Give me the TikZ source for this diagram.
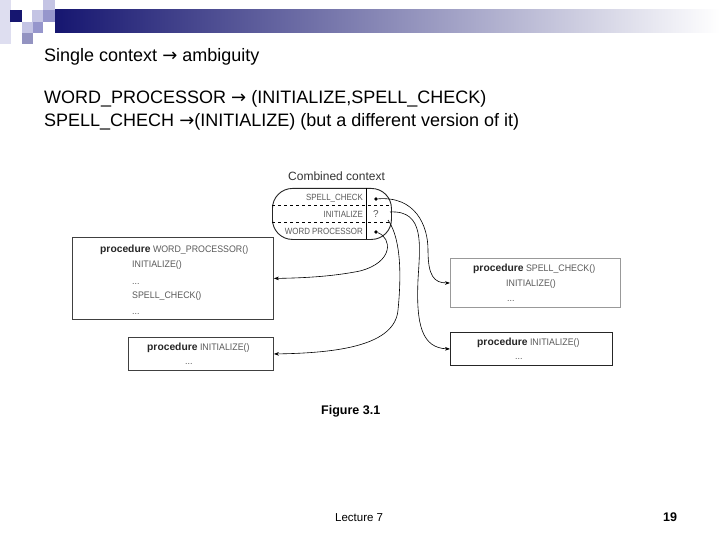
\documentclass[tikz,border=0pt]{standalone}
\usepackage{fontspec}
\setmainfont{Liberation Sans}
\newfontfamily\codefont[FakeStretch=0.88]{Liberation Sans}
\newfontfamily\boxfont[FakeStretch=0.93]{Liberation Sans}
\newfontfamily\arrowfont{DejaVu Sans}
\usetikzlibrary{arrows.meta}
\definecolor{navy}{RGB}{22,22,112}
\definecolor{barmid}{RGB}{150,150,182}
\definecolor{lavA}{RGB}{222,222,240}
\definecolor{lavB}{RGB}{196,196,228}
\definecolor{lavC}{RGB}{150,150,204}
\definecolor{codegray}{RGB}{90,90,90}
\begin{document}
\begin{tikzpicture}[x=1pt,y=-1pt,
  head/.style={anchor=base west, inner sep=0pt, font=\fontsize{18}{21}\selectfont},
  code/.style={anchor=base west, inner sep=0pt, font=\codefont\fontsize{9}{10}\selectfont, text=codegray},
  bcode/.style={anchor=base west, inner sep=0pt, font=\boxfont\fontsize{9.5}{11}\selectfont, text=codegray},
  box/.style={draw=#1, line width=0.9pt, anchor=north west, inner sep=0pt},
  conn/.style={-{Stealth[length=5pt,width=3.6pt]}, line width=0.6pt},
  dotnode/.style={circle, fill=black, inner sep=1.3pt}]
\newcommand{\kw}{{\fontsize{10.3}{12}\selectfont\normalfont\bfseries\color{black!85}procedure}}
\newcommand{\rarr}{{\arrowfont →}}
\useasboundingbox[fill=white] (0,0) rectangle (720,540);

% title decoration
\shade[left color=navy, middle color=barmid, right color=white] (55,10) rectangle (720,33);
\fill[lavA] (0,0) rectangle (11,44);
\fill[navy] (10,10) rectangle (22,22);
\fill[lavB] (32,10) rectangle (43,22);
\fill[lavB] (43,0) rectangle (55,10);
\fill[lavC] (43,10) rectangle (55,22);
\fill[lavB] (22,22) rectangle (33,33);
\fill[lavC] (33,22) rectangle (43,33);
\fill[lavC!85!gray] (22,33) rectangle (33,44);

% heading text
\node[head] (t1) at (44,62) {Single context \rarr\ ambiguity};
\node[head] (t2) at (44,104) {WORD\_PROCESSOR \rarr\ (INITIALIZE,SPELL\_CHECK)};
\node[head] (t3) at (44,127) {SPELL\_CHECH \rarr(INITIALIZE) (but a different version of it)};

% combined context
\node[anchor=base west, inner sep=0pt, font=\fontsize{12}{14}\selectfont, text=black!80] (cc) at (288,181) {Combined context};
\node[box=black!85, rounded corners=20pt, minimum width=119pt, minimum height=51pt] (ctx) at (272,188) {};
\draw[dashed, line width=0.6pt] (272,205) -- (391,205);
\draw[dashed, line width=0.6pt] (272,222) -- (391,222);
\draw[line width=0.6pt] (366,188) -- (366,239);
\node[code, anchor=base east] (l1) at (363,201) {SPELL\_CHECK};
\node[code, anchor=base east] (l2) at (363,218) {INITIALIZE};
\node[code, anchor=base east] (l3) at (363,235) {WORD PROCESSOR};
\node[dotnode] (d1) at (376,199) {};
\node[code, anchor=base, font=\fontsize{10}{12}\selectfont] (q) at (376,218) {?};
\node[dotnode] (d2) at (376,232) {};
\coordinate (qs) at (390,212);
\coordinate (qs2) at (388,220);

% procedure boxes
\node[box=black!75, minimum width=201pt, minimum height=82pt] (wp) at (72,237) {};
\node[bcode] (wp1) at (100,252) {\kw\ WORD\_PROCESSOR()};
\node[bcode] (wp2) at (132,267) {INITIALIZE()};
\node[bcode] (wp3) at (132,284) {...};
\node[bcode] (wp4) at (132,298) {SPELL\_CHECK()};
\node[bcode] (wp5) at (132,314) {...};

\node[box=black!75, minimum width=145pt, minimum height=33pt] (in1) at (128,337) {};
\node[bcode] (in1a) at (147,350) {\kw\ INITIALIZE()};
\node[bcode] (in1b) at (185,364) {...};

\node[box=black!40, minimum width=170pt, minimum height=49pt] (sc) at (450,258) {};
\node[bcode] (sc1) at (473,271) {\kw\ SPELL\_CHECK()};
\node[bcode] (sc2) at (506,286) {INITIALIZE()};
\node[bcode] (sc3) at (507,301) {...};

\node[box=black!85, minimum width=162pt, minimum height=33pt] (in2) at (450,332) {};
\node[bcode] (in2a) at (477,345) {\kw\ INITIALIZE()};
\node[bcode] (in2b) at (515,359) {...};

% connectors
\draw[conn] (d1) .. controls (415,196) and (428,225) .. (428,250) .. controls (428,276) and (434,283) .. (sc.west);
\draw[conn] (qs) .. controls (425,210) and (420,245) .. (418,280) .. controls (416,325) and (422,348) .. (in2.west);
\draw[conn] (qs2) .. controls (402,240) and (401,280) .. (398,310) .. controls (395,345) and (340,353) .. (in1.east);
\draw[conn] (d2) .. controls (392,238) and (394,262) .. (360,271) .. controls (330,277) and (300,278) .. (wp.east);

% captions
\node[anchor=base west, inner sep=0pt, font=\fontsize{12.5}{14}\selectfont\bfseries] (fig) at (321,414) {Figure 3.1};
\node[anchor=base west, inner sep=0pt, font=\fontsize{11.5}{14}\selectfont] (lec) at (335,521) {Lecture 7};
\node[anchor=base west, inner sep=0pt, font=\fontsize{12.5}{14}\selectfont\bfseries] (pg) at (663,521) {19};
\end{tikzpicture}
\end{document}
